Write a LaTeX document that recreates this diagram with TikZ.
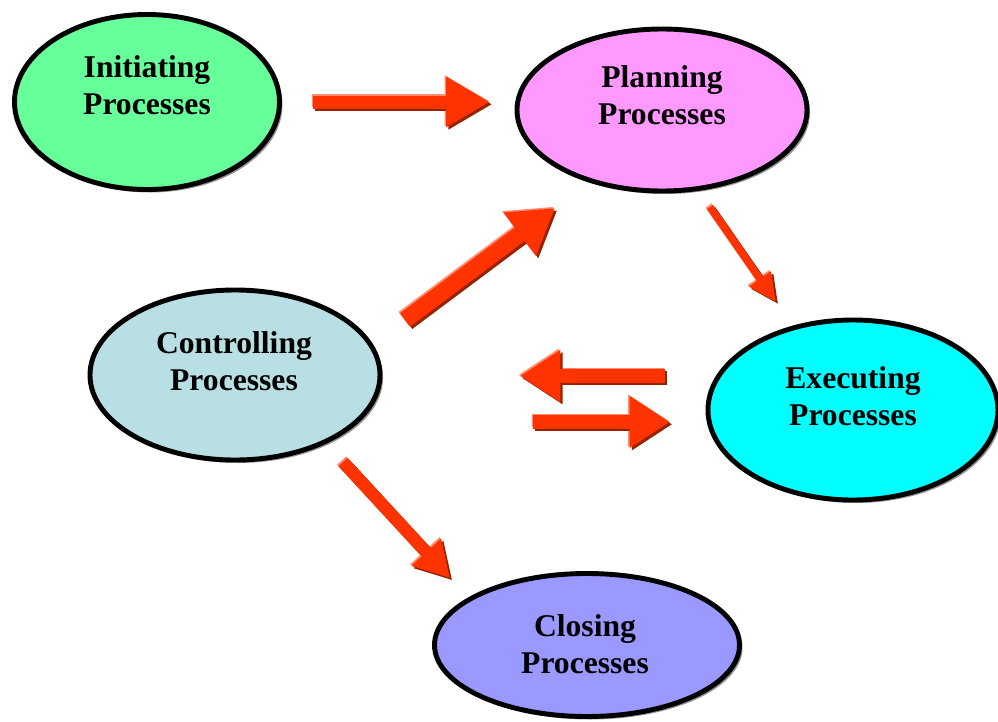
\documentclass[tikz,border=0pt]{standalone}
\usepackage{fontspec}
\setmainfont{Liberation Serif}
\usetikzlibrary{arrows.meta, shapes.geometric, shadows}

\definecolor{initgreen}{RGB}{102,255,153}
\definecolor{planpink}{RGB}{255,153,255}
\definecolor{ctrlblue}{RGB}{184,223,227}
\definecolor{execcyan}{RGB}{0,255,255}
\definecolor{closeblue}{RGB}{153,153,255}
\definecolor{arrowred}{RGB}{255,51,0}
\definecolor{arrowdark}{RGB}{150,34,0}
\definecolor{arrowlight}{RGB}{255,140,110}

\tikzset{
 process/.style = {ellipse, draw = black, line width = 2.8pt,
   drop shadow = {shadow xshift = 0.06cm, shadow yshift = -0.06cm, opacity = 0.85}},
 ptext/.style = {align = center, font = \fontsize{18}{21}\selectfont\bfseries},
}

\newcommand{\procarrow}[4]{%
 \draw[arrowlight, line width = #3, -{Triangle[#4]}, transform canvas = {shift = {(-0.8pt, 0.8pt)}}] (#1) -- (#2);
 \draw[arrowdark, line width = #3, -{Triangle[#4]}, transform canvas = {shift = {(1.3pt, -1.3pt)}}] (#1) -- (#2);
 \draw[arrowred, line width = #3, -{Triangle[#4]}] (#1) -- (#2);
}

\begin{document}
\begin{tikzpicture}
 \useasboundingbox (0, 0) rectangle (19.96, -14.42);

 \node[process, fill = initgreen, minimum width = 5.3cm, minimum height = 3.5cm] (init) at (2.94, -2.04) {};
 \node[process, fill = planpink, minimum width = 5.8cm, minimum height = 3.24cm] (plan) at (13.24, -2.2) {};
 \node[process, fill = ctrlblue, minimum width = 5.8cm, minimum height = 3.4cm] (ctrl) at (4.7, -7.5) {};
 \node[process, fill = execcyan, minimum width = 5.8cm, minimum height = 3.6cm] (exec) at (17.06, -8.2) {};
 \node[process, fill = closeblue, minimum width = 6.1cm, minimum height = 2.86cm] (close) at (11.74, -12.9) {};

 \node[ptext] (init-text) at (2.94, -1.7) {Initiating\\Processes};
 \node[ptext] (plan-text) at (13.24, -1.9) {Planning\\Processes};
 \node[ptext] (ctrl-text) at (4.68, -7.22) {Controlling\\Processes};
 \node[ptext] (exec-text) at (17.06, -7.92) {Executing\\Processes};
 \node[ptext] (close-text) at (11.7, -12.88) {Closing\\Processes};

 \coordinate (init-out) at (6.26, -2.04);
 \coordinate (plan-in) at (9.8, -2.04);
 \coordinate (ctrl-up) at (8.1, -6.4);
 \coordinate (plan-in2) at (11.1, -4.16);
 \coordinate (plan-out) at (14.2, -4.14);
 \coordinate (exec-in) at (15.52, -6.04);
 \coordinate (exec-out) at (13.3, -7.52);
 \coordinate (ctrl-in) at (10.4, -7.52);
 \coordinate (ctrl-out) at (10.66, -8.44);
 \coordinate (exec-in2) at (13.4, -8.44);
 \coordinate (ctrl-down) at (6.86, -9.24);
 \coordinate (close-in) at (9.0, -11.56);

 \procarrow{init-out}{plan-in}{7.4pt}{length = 25pt, width = 27pt}
 \procarrow{ctrl-up}{plan-in2}{9.5pt}{length = 25pt, width = 29pt}
 \procarrow{plan-out}{exec-in}{4.2pt}{length = 16pt, width = 14pt}
 \procarrow{exec-out}{ctrl-in}{7.8pt}{length = 23pt, width = 28pt}
 \procarrow{ctrl-out}{exec-in2}{7.8pt}{length = 23pt, width = 28pt}
 \procarrow{ctrl-down}{close-in}{7pt}{length = 20pt, width = 21.5pt}
\end{tikzpicture}
\end{document}
